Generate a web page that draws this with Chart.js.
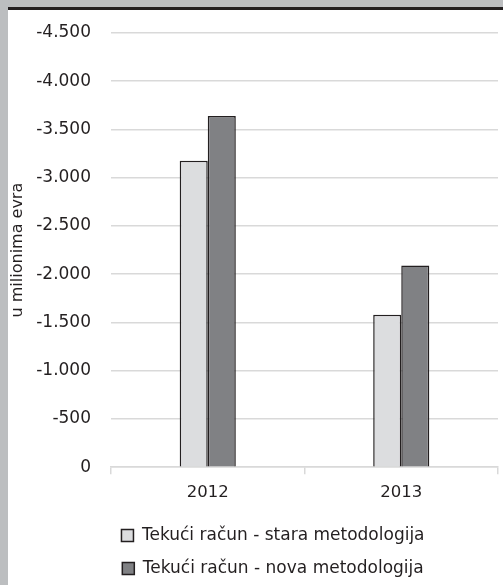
<!DOCTYPE html>
<html>
<head>
<meta charset="utf-8">
<script src="https://cdn.jsdelivr.net/npm/chart.js@4"></script>
<style>
  body { margin: 0; background: #bcbec0; width: 503px; height: 585px; overflow: hidden; position: relative; }
  #topBar { position: absolute; left: 8px; top: 7px; width: 495px; height: 3px; background: #231f20; }
  #panel { position: absolute; left: 8px; top: 10px; width: 495px; height: 575px; background: #fff; overflow: hidden; }
</style>
</head>
<body>
<div id="topBar"></div>
<div id="panel"><canvas id="deficitChart" width="495" height="575"></canvas></div>
<script>
const years = ['2012', '2013'];
const seriesNames = ['Tekući račun - stara metodologija', 'Tekući račun - nova metodologija'];
const staraValues = [-3175, -1580];
const novaValues = [-3640, -2090];
const yTicks = [0, -500, -1000, -1500, -2000, -2500, -3000, -3500, -4000, -4500];

const textColor = '#231f20';
const font = 'DejaVu Sans';

function formatThousands(v) {
    let s = Math.abs(v).toString().replace(/\B(?=(\d{3})+(?!\d))/g, '.');
    return (v < 0 ? '-' : '') + s;
}

// the legend in the original sits a bit right of the middle and a bit lower
const legendShift = {
    id: 'legendShift',
    afterLayout(chart) {
        chart.legend.left += 20;
        chart.legend.right += 20;
        chart.legend.top += 2;
        chart.legend.bottom += 2;
    }
};

const ctx = document.getElementById('deficitChart').getContext('2d');

new Chart(ctx, {
    type: 'bar',
    data: {
        labels: years,
        datasets: [{
            label: seriesNames[0],
            data: staraValues,
            backgroundColor: '#dcdddf',
            borderColor: textColor,
            borderWidth: 1.5
        }, {
            label: seriesNames[1],
            data: novaValues,
            backgroundColor: '#808184',
            borderColor: textColor,
            borderWidth: 1.5
        }]
    },
    plugins: [legendShift],
    options: {
        responsive: false,
        animation: false,
        layout: { padding: { top: 0, right: 5, left: 0, bottom: 0 } },
        datasets: { bar: { categoryPercentage: 0.29, barPercentage: 1 } },
        plugins: {
            tooltip: { enabled: false },
            legend: {
                position: 'bottom',
                labels: {
                    color: textColor,
                    font: { family: font, size: 17 },
                    boxWidth: 12,
                    boxHeight: 12,
                    padding: 16
                }
            }
        },
        scales: {
            x: {
                afterFit: axis => { axis.height -= 3; },
                grid: { drawOnChartArea: false, drawTicks: true, tickLength: 7, color: '#d9d9d9', lineWidth: 1.5 },
                border: { color: '#d9d9d9', width: 1.5 },
                ticks: { color: textColor, font: { family: font, size: 16.5 }, padding: 9 }
            },
            y: {
                reverse: true,
                min: -4500,
                max: 0,
                afterBuildTicks: axis => { axis.ticks = yTicks.map(v => ({ value: v })); },
                afterFit: axis => {
                    axis.width = 103;
                    axis.paddingTop = 23;
                },
                grid: { color: '#d9d9d9', lineWidth: 1.5, drawTicks: false },
                border: { display: false },
                ticks: {
                    color: textColor,
                    font: { family: font, size: 17 },
                    padding: 20,
                    callback: v => formatThousands(v)
                },
                title: {
                    display: true,
                    text: 'u milionima evra',
                    color: textColor,
                    font: { family: font, size: 16 },
                    padding: { top: 0, bottom: 8 }
                }
            }
        }
    }
});
</script>
</body>
</html>
